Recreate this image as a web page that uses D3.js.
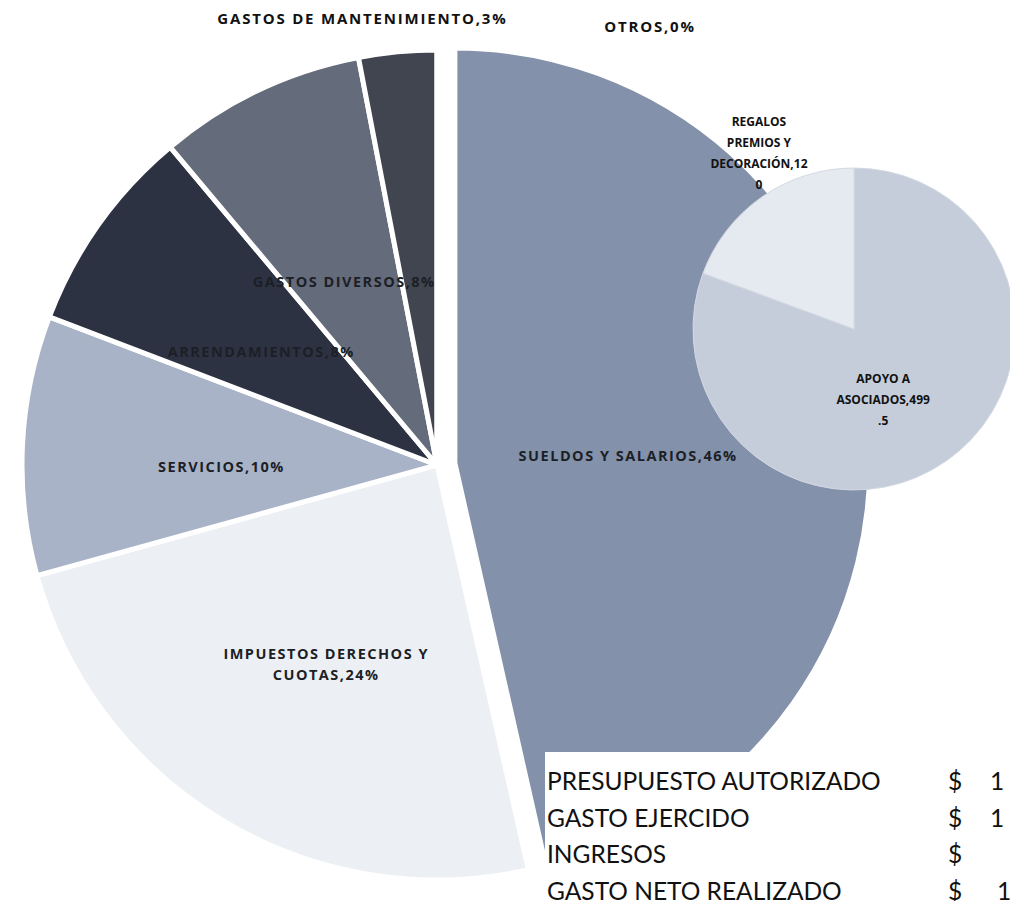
<!DOCTYPE html>
<html>
<head>
<meta charset="utf-8">
<script src="https://cdn.jsdelivr.net/npm/d3@7"></script>
<style>
  body { margin: 0; background: #fff; }
</style>
</head>
<body>
<svg id="fig" width="1010" height="901"></svg>
<script>
// main pie (percent of gasto)
var categories = ["SUELDOS Y SALARIOS", "IMPUESTOS DERECHOS Y CUOTAS", "SERVICIOS",
                  "ARRENDAMIENTOS", "GASTOS DIVERSOS", "GASTOS DE MANTENIMIENTO", "OTROS"];
var percents = [46, 24, 10, 8, 8, 3, 0];
var colors = ["#8391ab", "#eceff4", "#a9b3c7", "#2d3242", "#646b7b", "#40454f", "#9aa3b5"];

// secondary pie (breakdown of OTROS)
var subCategories = ["APOYO A ASOCIADOS", "REGALOS PREMIOS Y DECORACIÓN"];
var subValues = [499.5, 120];
var subColors = ["#c5cddb", "#e5e9f0"];
var subLabelLines = [["APOYO A", "ASOCIADOS,499", ".5"], ["REGALOS", "PREMIOS Y", "DECORACIÓN,12", "0"]];

// summary table
var tableLabels = ["PRESUPUESTO AUTORIZADO", "GASTO EJERCIDO", "INGRESOS", "GASTO NETO REALIZADO"];
var tableValues = ["1", "1", "", "1"];

var svg = d3.select("#fig");

var cx = 437, cy = 465, r = 415;
var pie = d3.pie().sort(null).value(d => d);
var arcs = pie(percents);
var arc = d3.arc().innerRadius(0).outerRadius(r);

var main = svg.append("g").attr("transform", "translate(" + cx + "," + cy + ")");

// first slice is pulled out a bit
function explode(d, i) {
    if (i != 0) return null;
    var a = (d.startAngle + d.endAngle) / 2;
    return "translate(" + (Math.sin(a) * 18) + "," + (-Math.cos(a) * 18) + ")";
}

main.selectAll("path").data(arcs)
    .enter()
    .append("path")
    .attr("d", arc)
    .attr("transform", explode)
    .attr("fill", (d, i) => colors[i])
    .attr("stroke", "white")
    .attr("stroke-width", 5)
    .attr("stroke-linejoin", "round");

main.selectAll("g.lbl").data(arcs)
    .enter()
    .append("g")
    .attr("class", "lbl")
    .attr("transform", explode)
    .each(function(d, i) {
        var small = d.data < 5;
        var lr = small ? r * 1.08 : (i == 0 ? r * 0.42 : r * 0.52);
        var p = d3.arc().innerRadius(lr).outerRadius(lr).centroid(d);
        if (small) p[0] -= 32;
        else p[1] += 12;
        if (d.data == 0) p = [p[0] + 245, p[1] + 10];   // excel moves it out of the way
        var txt = categories[i] + "," + d.data + "%";
        var lines = txt.length > 26 ? [txt.slice(0, txt.lastIndexOf(" ")), txt.slice(txt.lastIndexOf(" ") + 1)] : [txt];
        var t = d3.select(this).append("text")
            .attr("x", p[0]).attr("y", p[1])
            .attr("text-anchor", "middle")
            .attr("font-family", "Open Sans")
            .attr("font-weight", "bold")
            .attr("font-size", small ? "15px" : "14.5px")
            .attr("letter-spacing", small ? "1.8px" : "1.5px")
            .attr("fill", small ? "#111" : "#1c1f26");
        lines.forEach((l, k) => t.append("tspan")
            .attr("x", p[0])
            .attr("dy", k == 0 ? (lines.length > 1 ? "-0.25em" : "0.35em") : "1.5em")
            .text(l));
    });

// secondary pie
var sx = 854, sy = 329, sr = 161;
var subArcs = pie(subValues);
var subArc = d3.arc().innerRadius(0).outerRadius(sr);
var sub = svg.append("g").attr("transform", "translate(" + sx + "," + sy + ")");

sub.selectAll("path").data(subArcs)
    .enter()
    .append("path")
    .attr("d", subArc)
    .attr("fill", (d, i) => subColors[i])
    .attr("stroke", "#d4d9e2")
    .attr("stroke-width", 1);

var subLabelR = [sr * 0.48, sr * 1.25];
var subShift = [[-15, 8], [20, -10]];
sub.selectAll("text").data(subArcs)
    .enter()
    .append("text")
    .attr("text-anchor", "middle")
    .attr("font-family", "Open Sans")
    .attr("font-weight", "bold")
    .attr("font-size", "12px")
    .attr("fill", "#111")
    .each(function(d, i) {
        var p = d3.arc().innerRadius(subLabelR[i]).outerRadius(subLabelR[i]).centroid(d);
        var lines = subLabelLines[i];
        var t = d3.select(this);
        lines.forEach((l, k) => t.append("tspan")
            .attr("x", p[0] + subShift[i][0])
            .attr("y", p[1] + subShift[i][1] + (k - (lines.length - 1) / 2) * 21 + 4)
            .text(l));
    });

// summary table box
var tb = svg.append("g");
tb.append("rect")
    .attr("x", 545).attr("y", 752)
    .attr("width", 470).attr("height", 160)
    .attr("fill", "white");

var rowY = d3.scaleLinear().domain([0, 1]).range([790, 826.5]);
tb.selectAll("text.lab").data(tableLabels)
    .enter()
    .append("text")
    .attr("class", "lab")
    .attr("x", 547)
    .attr("y", (d, i) => rowY(i))
    .attr("font-family", "Lato")
    .attr("font-size", "24.5px")
    .attr("fill", "#111")
    .text(d => d);

tb.selectAll("text.cur").data(tableValues)
    .enter()
    .append("text")
    .attr("class", "cur")
    .attr("x", 948)
    .attr("y", (d, i) => rowY(i))
    .attr("font-family", "Lato")
    .attr("font-size", "24.5px")
    .attr("fill", "#111")
    .text("$");

tb.selectAll("text.num").data(tableValues)
    .enter()
    .append("text")
    .attr("class", "num")
    .attr("x", (d, i) => i == 3 ? 997 : 990)
    .attr("y", (d, i) => rowY(i))
    .attr("font-family", "Lato")
    .attr("font-size", "24.5px")
    .attr("fill", "#111")
    .text(d => d);
</script>
</body>
</html>
